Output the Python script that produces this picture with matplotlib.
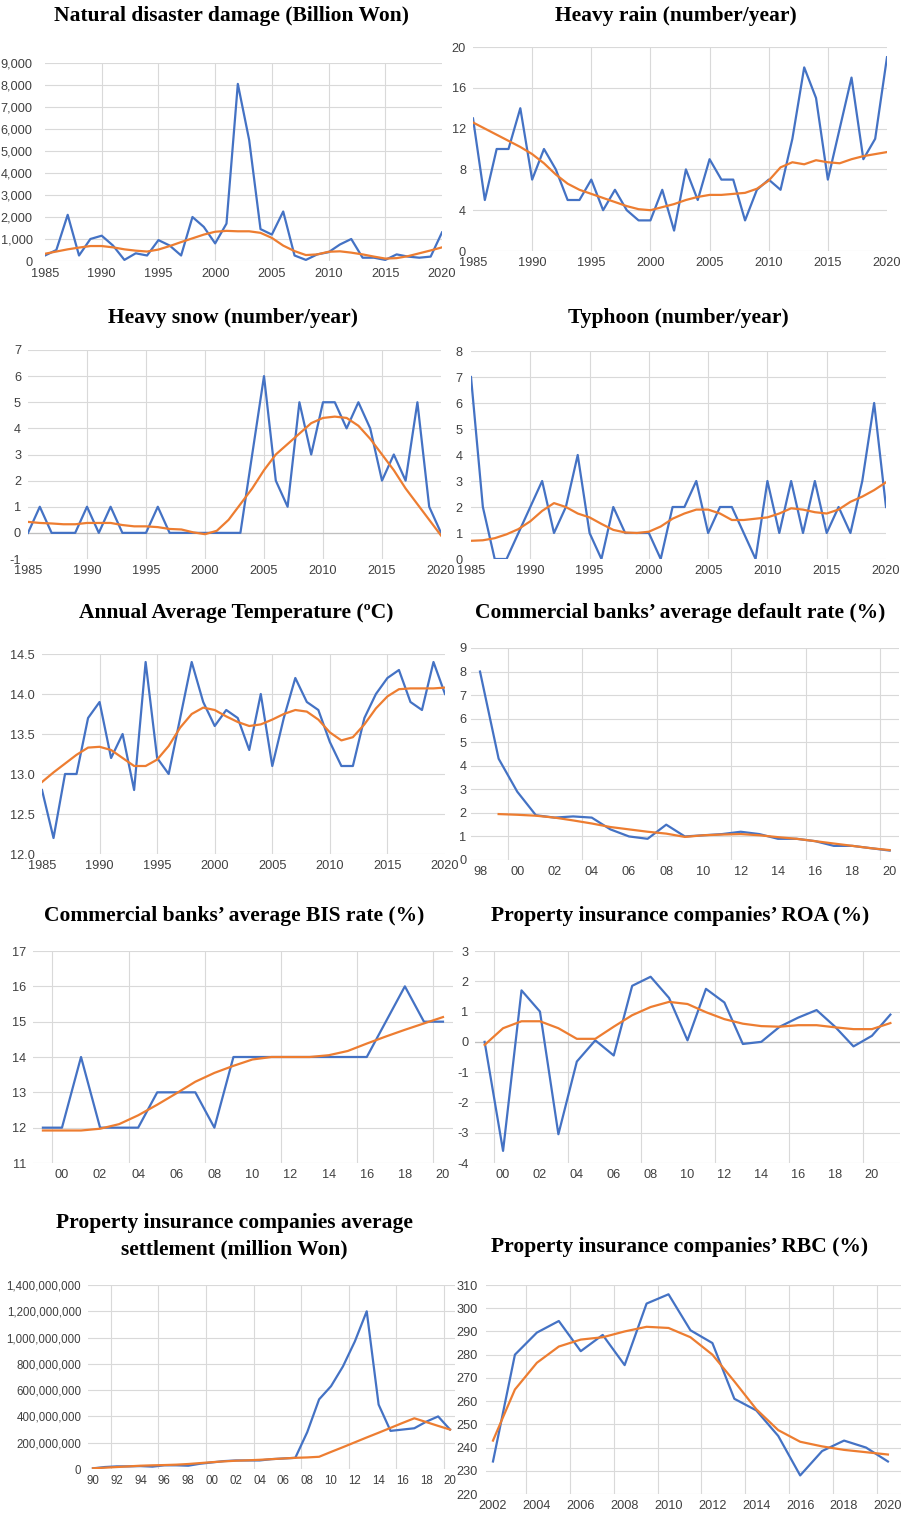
import matplotlib
matplotlib.use("Agg")
import matplotlib.pyplot as plt
from matplotlib.ticker import FuncFormatter

BLUE = "#4472C4"
ORANGE = "#ED7D31"
GRID = "#D9D9D9"
TICKCOL = "#404040"

plt.rcParams['font.family'] = ['Liberation Sans', 'DejaVu Sans']
plt.rcParams['axes.unicode_minus'] = False

# ---------------- data ----------------
years_85 = list(range(1985, 2021))
xticks_85 = [1985, 1990, 1995, 2000, 2005, 2010, 2015, 2020]
xticklabels_85 = ["1985", "1990", "1995", "2000", "2005", "2010", "2015", "2020"]

damage = [250, 500, 2100, 250, 1000, 1150, 700, 50, 350, 250, 950, 700, 250, 2000, 1550, 800,
          1700, 8050, 5500, 1450, 1200, 2250, 250, 50, 300, 400, 750, 1000, 150, 150, 50, 300,
          200, 150, 200, 1300]
damage_trend = [330, 430, 530, 610, 680, 680, 620, 530, 470, 430, 520, 680, 860, 1030, 1200, 1330,
                1370, 1350, 1350, 1280, 1050, 700, 450, 270, 300, 420, 440, 380, 300, 200, 110, 130,
                220, 350, 480, 620]

rain = [13, 5, 10, 10, 14, 7, 10, 8, 5, 5, 7, 4, 6, 4, 3, 3, 6, 2, 8, 5, 9, 7, 7, 3, 6, 7, 6, 11,
        18, 15, 7, 12, 17, 9, 11, 19]
rain_trend = [12.6, 12.0, 11.4, 10.8, 10.2, 9.5, 8.6, 7.5, 6.6, 6.0, 5.6, 5.2, 4.8, 4.4, 4.1, 4.0,
              4.3, 4.6, 5.0, 5.3, 5.5, 5.5, 5.6, 5.7, 6.1, 6.9, 8.2, 8.7, 8.5, 8.9, 8.7, 8.6, 9.0,
              9.3, 9.5, 9.7]

snow = [0, 1, 0, 0, 0, 1, 0, 1, 0, 0, 0, 1, 0, 0, 0, 0, 0, 0, 0, 3, 6, 2, 1, 5, 3, 5, 5, 4, 5, 4,
        2, 3, 2, 5, 1, 0]
snow_trend = [0.42, 0.38, 0.36, 0.33, 0.33, 0.38, 0.38, 0.38, 0.30, 0.25, 0.25, 0.22, 0.15, 0.13,
              0.02, -0.05, 0.08, 0.5, 1.1, 1.7, 2.4, 3.0, 3.4, 3.8, 4.2, 4.4, 4.45, 4.4, 4.1, 3.6,
              3.0, 2.4, 1.7, 1.1, 0.5, -0.1]

typhoon = [7, 2, 0, 0, 1, 2, 3, 1, 2, 4, 1, 0, 2, 1, 1, 1, 0, 2, 2, 3, 1, 2, 2, 1, 0, 3, 1, 3, 1,
           3, 1, 2, 1, 3, 6, 2]
typhoon_trend = [0.7, 0.72, 0.8, 0.95, 1.15, 1.45, 1.85, 2.15, 2.0, 1.75, 1.6, 1.35, 1.12, 1.02,
                 1.0, 1.05, 1.25, 1.55, 1.75, 1.9, 1.9, 1.75, 1.5, 1.5, 1.55, 1.6, 1.75, 1.95, 1.9,
                 1.8, 1.75, 1.9, 2.2, 2.4, 2.65, 2.95]

temp = [12.8, 12.2, 13.0, 13.0, 13.7, 13.9, 13.2, 13.5, 12.8, 14.4, 13.2, 13.0, 13.7, 14.4, 13.9,
        13.6, 13.8, 13.7, 13.3, 14.0, 13.1, 13.7, 14.2, 13.9, 13.8, 13.4, 13.1, 13.1, 13.7, 14.0,
        14.2, 14.3, 13.9, 13.8, 14.4, 14.0]
temp_trend = [12.9, 13.02, 13.13, 13.24, 13.33, 13.34, 13.3, 13.2, 13.1, 13.1, 13.18, 13.35, 13.58,
              13.75, 13.83, 13.8, 13.72, 13.65, 13.6, 13.62, 13.68, 13.75, 13.8, 13.78, 13.68,
              13.52, 13.42, 13.46, 13.62, 13.82, 13.97, 14.06, 14.07, 14.07, 14.07, 14.08]

years_98 = list(range(1998, 2021))
xticks_98 = list(range(1998, 2021, 2))
xticklabels_98 = ["98", "00", "02", "04", "06", "08", "10", "12", "14", "16", "18", "20"]
default_rate = [8.0, 4.3, 2.9, 1.9, 1.8, 1.85, 1.8, 1.3, 1.0, 0.9, 1.5, 1.0, 1.05, 1.1, 1.2, 1.1,
                0.9, 0.9, 0.8, 0.6, 0.6, 0.5, 0.4]
years_99_20 = list(range(1999, 2021))
default_trend = [1.95, 1.92, 1.88, 1.8, 1.68, 1.55, 1.4, 1.3, 1.2, 1.12, 0.98, 1.05, 1.08, 1.1,
                 1.05, 0.97, 0.9, 0.8, 0.7, 0.6, 0.5, 0.42]

xticks_00 = list(range(2000, 2021, 2))
xticklabels_00 = ["00", "02", "04", "06", "08", "10", "12", "14", "16", "18", "20"]
bis = [12, 12, 14, 12, 12, 12, 13, 13, 13, 12, 14, 14, 14, 14, 14, 14, 14, 14, 15, 16, 15, 15]
bis_trend = [11.92, 11.92, 11.92, 11.97, 12.1, 12.35, 12.65, 12.97, 13.3, 13.55, 13.75, 13.93,
             14.0, 14.0, 14.0, 14.05, 14.17, 14.38, 14.58, 14.77, 14.95, 15.13]

years_99_21 = list(range(1999, 2022))
roa = [0.0, -3.6, 1.7, 1.0, -3.05, -0.65, 0.05, -0.45, 1.85, 2.15, 1.45, 0.05, 1.75, 1.3, -0.07,
       0.0, 0.5, 0.8, 1.05, 0.5, -0.15, 0.2, 0.9]
roa_trend = [-0.1, 0.45, 0.68, 0.68, 0.45, 0.1, 0.1, 0.5, 0.88, 1.15, 1.32, 1.25, 0.98, 0.75, 0.6,
             0.52, 0.5, 0.55, 0.55, 0.48, 0.42, 0.42, 0.62]

years_90 = list(range(1990, 2021))
xticks_90 = list(range(1990, 2021, 2))
xticklabels_90 = ["90", "92", "94", "96", "98", "00", "02", "04", "06", "08", "10", "12", "14",
                  "16", "18", "20"]
settlement = [5000000, 15000000, 20000000, 20000000, 22000000, 18000000, 28000000, 28000000,
              25000000, 40000000, 50000000, 60000000, 65000000, 65000000, 65000000, 75000000,
              80000000, 85000000, 280000000, 530000000, 630000000, 780000000, 970000000,
              1200000000, 490000000, 290000000, 300000000, 310000000, 360000000, 400000000,
              300000000]
settlement_trend = [5000000, 10000000, 15000000, 20000000, 25000000, 28000000, 30000000, 33000000,
                    38000000, 45000000, 52000000, 58000000, 63000000, 66000000, 70000000,
                    75000000, 80000000, 85000000, 88000000, 93000000, 130000000, 166000000,
                    203000000, 240000000, 276000000, 313000000, 350000000, 386000000, 357000000,
                    328000000, 300000000]

years_02 = list(range(2002, 2021))
xticks_02 = list(range(2002, 2021, 2))
xticklabels_02 = ["2002", "2004", "2006", "2008", "2010", "2012", "2014", "2016", "2018", "2020"]
rbc = [234, 280, 289.5, 294.5, 281.5, 288.5, 275.5, 302, 306, 290.5, 285, 261, 256, 245, 228,
       238.5, 243, 240, 234]
rbc_trend = [243, 265, 276.5, 283.5, 286.5, 287.5, 290, 292, 291.5, 287.5, 280, 268.5, 256.5,
             247.5, 242.5, 240.5, 239, 238, 237]

titles = [
    "Natural disaster damage (Billion Won)",
    "Heavy rain (number/year)",
    "Heavy snow (number/year)",
    "Typhoon (number/year)",
    "Annual Average Temperature (\u00baC)",
    "Commercial banks\u2019 average default rate (%)",
    "Commercial banks\u2019 average BIS rate (%)",
    "Property insurance companies\u2019 ROA (%)",
    "Property insurance companies average\nsettlement (million Won)",
    "Property insurance companies\u2019 RBC (%)",
]

# ---------------- figure ----------------
W, H = 906, 1513
fig = plt.figure(figsize=(W / 100, H / 100), dpi=100)


def add_ax(left, right, top, bottom):
    return fig.add_axes([left / W, 1 - bottom / H, (right - left) / W, (bottom - top) / H])


def style(ax, xlim, ylim, yticks, xticks, xlabels, vgrid, yfmt=None, ypad=5, zero=False,
          lsize=9.2, xpad=4):
    ax.set_xlim(*xlim)
    ax.set_ylim(*ylim)
    for s in ax.spines.values():
        s.set_visible(False)
    ax.set_yticks(yticks)
    ax.set_xticks(xticks)
    ax.set_xticklabels(xlabels)
    ax.tick_params(length=0, labelsize=lsize, labelcolor=TICKCOL)
    ax.tick_params(axis='y', pad=ypad)
    ax.tick_params(axis='x', pad=xpad)
    if yfmt is not None:
        ax.yaxis.set_major_formatter(FuncFormatter(yfmt))
    for y in yticks:
        ax.axhline(y, color=GRID, lw=0.8, zorder=0)
    for x in vgrid:
        ax.axvline(x, color=GRID, lw=0.8, zorder=0)
    if zero:
        ax.axhline(0, color="#BFBFBF", lw=0.9, zorder=0.5)


def lines(ax, x, y, xt, yt):
    ax.plot(x, y, color=BLUE, lw=1.6, zorder=3)
    ax.plot(xt, yt, color=ORANGE, lw=1.6, zorder=4)


def title(cx, cy, text):
    fig.text(cx / W, 1 - cy / H, text, ha='center', va='center', family='Liberation Serif',
             weight='bold', fontsize=15.5, linespacing=1.45)


comma = lambda v, p: f"{int(round(v)):,}"
one_dec = lambda v, p: f"{v:.1f}"
vg5 = [1990, 1995, 2000, 2005, 2010, 2015]

# 1 Natural disaster damage
ax = add_ax(45, 442, 63, 261)
style(ax, (1985, 2020), (0, 9000), list(range(0, 9001, 1000)), xticks_85, xticklabels_85, vg5,
      yfmt=comma, ypad=9, xpad=5)
lines(ax, years_85, damage, years_85, damage_trend)
title(232, 16, titles[0])

# 2 Heavy rain
ax = add_ax(473, 887, 47, 251)
style(ax, (1985, 2020), (0, 20), [0, 4, 8, 12, 16, 20], xticks_85, xticklabels_85, vg5, ypad=5)
lines(ax, years_85, rain, years_85, rain_trend)
title(676, 16, titles[1])

# 3 Heavy snow
ax = add_ax(28, 441, 350, 559)
style(ax, (1985, 2020), (-1, 7), list(range(-1, 8)), xticks_85, xticklabels_85, vg5, ypad=5,
      zero=True)
lines(ax, years_85, snow, years_85, snow_trend)
title(233, 318, titles[2])

# 4 Typhoon
ax = add_ax(471, 886, 351, 559)
style(ax, (1985, 2020), (0, 8), list(range(0, 9)), xticks_85, xticklabels_85, vg5, ypad=6)
lines(ax, years_85, typhoon, years_85, typhoon_trend)
title(678, 318, titles[3])

# 5 Temperature
ax = add_ax(42, 445, 654, 854)
style(ax, (1985, 2020), (12.0, 14.5), [12.0, 12.5, 13.0, 13.5, 14.0, 14.5], xticks_85,
      xticklabels_85, vg5, yfmt=one_dec, ypad=5)
lines(ax, years_85, temp, years_85, temp_trend)
title(236, 613, titles[4])

# 6 Default rate
ax = add_ax(470.7, 899, 648, 860)
style(ax, (1997.5, 2020.5), (0, 9), list(range(0, 10)), xticks_98, xticklabels_98,
      [1999.5, 2003.5, 2007.5, 2011.5, 2015.5, 2019.5], ypad=3)
lines(ax, years_98, default_rate, years_99_20, default_trend)
title(680, 613, titles[5])

# 7 BIS rate
ax = add_ax(33.4, 452.5, 951, 1163)
style(ax, (1998.5, 2020.5), (11, 17), list(range(11, 18)), xticks_00, xticklabels_00,
      [1999.5, 2003.5, 2007.5, 2011.5, 2015.5, 2019.5], ypad=5)
lines(ax, years_99_20, bis, years_99_20, bis_trend)
title(234, 916, titles[6])

# 8 ROA
ax = add_ax(475.4, 899.6, 951, 1163)
style(ax, (1998.5, 2021.5), (-4, 3), list(range(-4, 4)), xticks_00, xticklabels_00,
      [1999.5, 2003.5, 2007.5, 2011.5, 2015.5, 2019.5], ypad=5, zero=True)
lines(ax, years_99_21, roa, years_99_21, roa_trend)
title(680, 916, titles[7])

# 9 Settlement
ax = add_ax(88.2, 454.8, 1285, 1469)
style(ax, (1989.6, 2020.4), (0, 1400000000), list(range(0, 1400000001, 200000000)), xticks_90,
      xticklabels_90, [1991.5, 1995.5, 1999.5, 2003.5, 2007.5, 2011.5, 2015.5, 2019.5],
      yfmt=comma, ypad=5, lsize=8.3)
lines(ax, years_90, settlement, years_90, settlement_trend)
title(234, 1236, titles[8])

# 10 RBC
ax = add_ax(486.4, 901.1, 1285, 1494)
style(ax, (2001.7, 2020.6), (220, 310), list(range(220, 311, 10)), xticks_02, xticklabels_02,
      [2003.5, 2005.5, 2007.5, 2009.5, 2011.5, 2013.5, 2015.5, 2017.5, 2019.5], ypad=6)
lines(ax, years_02, rbc, years_02, rbc_trend)
title(680, 1247, titles[9])

fig.savefig("out.png", dpi=100, facecolor="white")
